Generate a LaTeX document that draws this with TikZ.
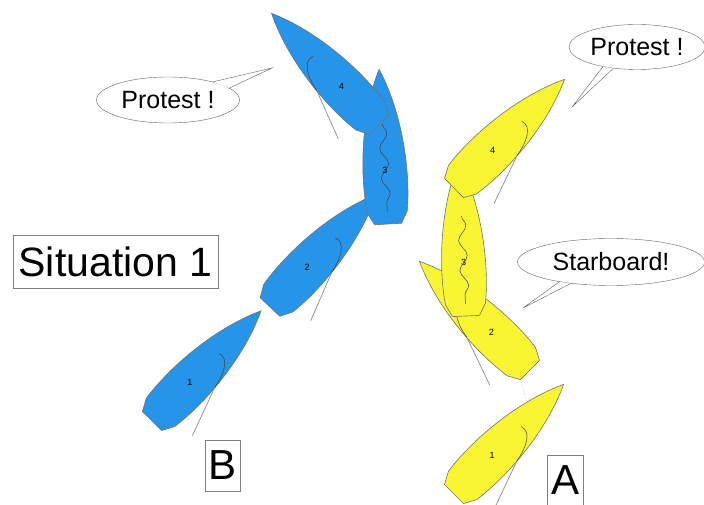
\documentclass[tikz,border=0pt]{standalone}
\usepackage{fontspec}
\setmainfont{Liberation Sans}
\usetikzlibrary{shapes.geometric,decorations.pathmorphing}

\definecolor{boatblue}{RGB}{38,148,232}
\definecolor{boatyellow}{RGB}{250,245,50}

% sail on one side, or luffing head to wind
\newcommand{\sailset}{%
  \draw[sailline] (95,0) .. controls (100,-11) and (82,-19) .. (68,-21);
  \draw[boomline] (68,-21) -- (18,-39);}
\newcommand{\sailluff}{%
  \draw[sailline, decorate, decoration={snake, amplitude=4pt, segment length=30pt}] (100,0) -- (12,0);}

\tikzset{
  hullline/.style={draw=black!55, line width=0.6pt},
  sailline/.style={draw=black!75, line width=0.5pt},
  boomline/.style={draw=black!45, line width=0.7pt},
  bubble/.style={ellipse, draw=black!60, fill=white, inner sep=0pt, font=\fontsize{25}{28}\selectfont},
  tagbox/.style={draw=black!50, inner sep=0pt, font=\fontsize{42}{46}\selectfont},
  pics/boat/.style n args={3}{code={
    \path[hullline, fill=#1] (0,-13.5) -- (12,-20) .. controls (50,-25.5) and (110,-21) .. (155,0)
      .. controls (110,21) and (50,25.5) .. (12,20) -- (0,13.5) -- cycle;
    \coordinate (-bow) at (155,0);
    \coordinate (-port) at (0,13.5);
    \coordinate (-stbd) at (0,-13.5);
    \node[font=\fontsize{9}{10}\selectfont] (-num) at (54,0) {#2};
    #3
  }}
}

\begin{document}
\begin{tikzpicture}[x=1pt, y=1pt]
\useasboundingbox (0,0) rectangle (704,504);

% boat B
\pic[rotate=45.3] (b1) at (152,83) {boat={boatblue}{1}{\sailset}};
\pic[rotate=46.7] (b2) at (270,197) {boat={boatblue}{2}{\sailset}};
\pic[rotate=93.3] (b3) at (388,280) {boat={boatblue}{3}{\sailluff}};
\pic[rotate=133.9, yscale=-1] (b4) at (379,379) {boat={boatblue}{4}{\sailset}};
\draw[dotted, black!40] (b1-bow) -- (b2-port);

% boat A
\pic[rotate=45] (y1) at (454,10) {boat={boatyellow}{1}{\sailset}};
\pic[rotate=135.5, yscale=-1] (y2) at (530,134) {boat={boatyellow}{2}{\sailset}};
\pic[rotate=92.6] (y3) at (466,188) {boat={boatyellow}{3}{\sailluff}};
\pic[rotate=44.5] (y4) at (454,316) {boat={boatyellow}{4}{\sailset}};
\coordinate (y1-edge) at (527,102);
\draw[dotted, black!50] (y2-stbd) -- (y1-edge);

% calls
\node[bubble, minimum width=143pt, minimum height=46pt] (pl) at (168,404) {Protest !};
\coordinate (pl-tip) at (272,436);
\fill[white] (pl.22) -- (pl-tip) -- (pl.11) -- cycle;
\draw[black!60] (pl.22) -- (pl-tip) -- (pl.11);

\node[bubble, minimum width=136pt, minimum height=45pt] (pr) at (637,457) {Protest !};
\coordinate (pr-tip) at (572,397);
\fill[white] (pr.210) -- (pr-tip) -- (pr.222) -- cycle;
\draw[black!60] (pr.210) -- (pr-tip) -- (pr.222);

\node[bubble, minimum width=187pt, minimum height=47pt] (ps) at (611,242) {Starboard!};
\coordinate (ps-tip) at (523,196);
\fill[white] (ps.201) -- (ps-tip) -- (ps.208) -- cycle;
\draw[black!60] (ps.201) -- (ps-tip) -- (ps.208);

% labels
\node[tagbox, minimum width=205pt, minimum height=53pt, font=\fontsize{41}{44}\selectfont] (sit) at (115.5,242.5) {Situation 1};
\node[tagbox, minimum width=35pt, minimum height=51pt] (tb) at (222.5,38.5) {B};
\node[tagbox, minimum width=36pt, minimum height=51pt] (ta) at (565,23.5) {A};
\end{tikzpicture}
\end{document}
